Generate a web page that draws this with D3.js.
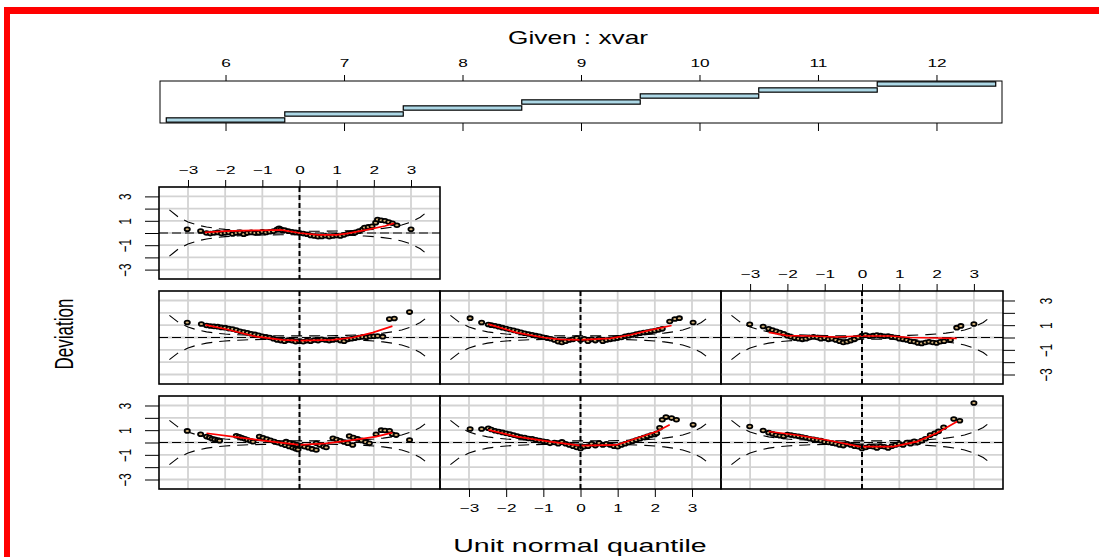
<!DOCTYPE html>
<html><head><meta charset="utf-8">
<script src="https://cdn.jsdelivr.net/npm/d3@7"></script>
<style>body{margin:0;background:#fff;} svg{display:block;} text{font-family:"Liberation Sans",Arial,Helvetica,sans-serif;}</style>
</head><body><svg id="c" width="1099" height="557"></svg>
<script>
// ---------- data ----------
const givenTicks=[6,7,8,9,10,11,12];
const givenLo=[5.5,6.5,7.5,8.5,9.5,10.5,11.5];
const givenHi=[6.5,7.5,8.5,9.5,10.5,11.5,12.5];
const qTicks=[-3,-2,-1,0,1,2,3];
const yTicks=[-3,-2,-1,0,1,2,3];
const yLabels=[-3,-1,1,3];
const nObs=[366,366,366,366,366,366,325];
const p1=[[-3.02,0.94],[-2.66,0.67],[-2.5,0.48],[-2.42,0.4],[-2.35,0.3],[-2.28,0.25],[-2.2,0.2],[-2.15,0.15],
 [-1.7,0.55],[-1.62,0.47],[-1.55,0.39],[-1.47,0.3],[-1.4,0.22],[-1.32,0.14],[-1.25,0.07],
 [-1.08,0.48],[-0.98,0.38],[-0.88,0.28],[-0.78,0.18],[-0.68,0.08],[-0.58,-0.02],[-0.48,-0.12],[-0.38,-0.22],[-0.28,-0.32],[-0.18,-0.42],[-0.1,-0.5],[-0.04,-0.56],
 [-0.36,0.07],[-0.26,-0.02],[-0.16,-0.1],[-0.06,-0.18],[0.04,-0.26],[0.14,-0.35],[0.24,-0.43],[0.34,-0.52],[0.45,-0.61],
 [0.45,-0.07],[0.55,-0.2],[0.65,-0.32],[0.72,-0.4],
 [0.9,0.34],[1.0,0.24],[1.1,0.14],[1.2,0.04],[1.3,-0.06],[1.43,-0.2],
 [1.34,0.53],[1.45,0.41],[1.56,0.29],[1.67,0.17],[1.78,0.05],[1.88,-0.07],
 [2.06,0.67],[2.2,1.0],[2.3,0.97],[2.42,0.95],[2.5,0.67],[2.6,0.6],[2.96,0.2]];
const p2=[[-2.97,1.1],[-2.66,1.1],[-2.48,1.16],[-2.4,1.05],[-2.3,0.95],[-2.2,0.89],[-2.1,0.82],[-2.0,0.75],[-1.9,0.68],[-1.8,0.6],[-1.7,0.52],[-1.6,0.45],[-1.5,0.4],[-1.4,0.33],[-1.3,0.3],[-1.2,0.22],[-1.1,0.15],[-1.0,0.1],[-0.9,0.05],[-0.82,-0.07],[-0.7,0.0],[-0.6,-0.1],[-0.5,0.05],[-0.4,-0.1],[-0.3,-0.2],[-0.2,-0.3],[-0.1,-0.4],[0,-0.48],[0.1,-0.35],[0.2,-0.3],[0.3,-0.1],[0.4,-0.25],[0.5,-0.05],[0.6,-0.2],[0.7,-0.1],[0.8,-0.2],[0.9,-0.3],[1.0,-0.35],[1.1,-0.2],[1.2,-0.1],[1.3,0.0],[1.4,0.1],[1.5,0.2],[1.6,0.3],[1.7,0.4],[1.8,0.5],[1.9,0.6],[2.0,0.65],[2.05,0.75],[2.13,1.2],[2.2,1.84],[2.3,2.06],[2.45,1.98],[2.58,1.84],[3.03,1.43]];
const p3=[[-3.01,1.3],[-2.65,0.97],[-2.5,0.8],[-2.4,0.7],[-2.3,0.6],[-2.2,0.55],[-2.1,0.5],[-2.0,0.65],[-1.9,0.6],[-1.8,0.55],[-1.7,0.5],[-1.6,0.45],[-1.5,0.38],[-1.4,0.3],[-1.3,0.25],[-1.2,0.2],[-1.1,0.15],[-1.0,0.05],[-0.9,0.0],[-0.8,-0.05],[-0.7,-0.1],[-0.6,-0.2],[-0.5,-0.25],[-0.4,-0.1],[-0.3,-0.2],[-0.2,-0.3],[-0.1,-0.35],[0,-0.48],[0.1,-0.4],[0.2,-0.3],[0.3,-0.35],[0.4,-0.45],[0.5,-0.3],[0.6,-0.35],[0.7,-0.45],[0.8,-0.3],[0.9,-0.2],[1.0,-0.1],[1.1,-0.2],[1.2,0.0],[1.3,-0.1],[1.4,0.1],[1.5,0.0],[1.6,0.15],[1.7,0.3],[1.83,0.6],[1.95,0.75],[2.05,0.9],[2.19,1.24],[2.46,1.9],[2.62,1.76],[3.0,3.2]];
const p4=[[-3.02,1.22],[-2.64,1.1],[-2.5,0.97],[-2.4,0.93],[-2.3,0.9],[-2.2,0.88],[-2.1,0.82],[-2.0,0.8],[-1.9,0.72],[-1.8,0.68],[-1.7,0.6],[-1.6,0.5],[-1.5,0.45],[-1.4,0.38],[-1.3,0.3],[-1.2,0.25],[-1.1,0.18],[-1.0,0.1],[-0.9,0.05],[-0.8,0.0],[-0.7,-0.1],[-0.6,-0.2],[-0.5,-0.25],[-0.4,-0.3],[-0.3,-0.2],[-0.2,-0.25],[-0.1,-0.35],[0,-0.3],[0.1,-0.35],[0.2,-0.25],[0.3,-0.3],[0.4,-0.2],[0.5,-0.25],[0.6,-0.15],[0.7,-0.2],[0.8,-0.25],[0.9,-0.2],[1.0,-0.15],[1.1,-0.25],[1.2,-0.3],[1.3,-0.15],[1.4,-0.1],[1.5,-0.05],[1.6,0.0],[1.7,0.05],[1.8,0.02],[1.9,0.08],[2.0,0.1],[2.1,0.12],[2.24,0.07],[2.42,1.49],[2.55,1.54],[2.96,2.06]];
const p5=[[-2.97,1.57],[-2.66,1.22],[-2.48,1.05],[-2.4,1.0],[-2.3,0.95],[-2.2,0.88],[-2.1,0.8],[-2.0,0.72],[-1.9,0.65],[-1.8,0.58],[-1.7,0.5],[-1.6,0.42],[-1.5,0.35],[-1.4,0.28],[-1.3,0.22],[-1.2,0.15],[-1.1,0.1],[-1.0,0.02],[-0.9,-0.05],[-0.8,-0.1],[-0.7,-0.2],[-0.6,-0.35],[-0.5,-0.4],[-0.4,-0.3],[-0.3,-0.2],[-0.2,-0.15],[-0.1,-0.05],[0,-0.2],[0.1,-0.1],[0.2,-0.3],[0.3,-0.15],[0.4,-0.25],[0.5,-0.1],[0.6,-0.3],[0.7,-0.2],[0.8,-0.15],[0.9,-0.1],[1.0,-0.05],[1.1,0.0],[1.2,0.1],[1.3,0.15],[1.4,0.2],[1.5,0.28],[1.6,0.35],[1.7,0.4],[1.8,0.45],[1.9,0.5],[2.0,0.55],[2.1,0.62],[2.2,0.7],[2.4,1.3],[2.54,1.5],[2.66,1.57],[3.03,1.22]];
const p6=[[-3.01,1.08],[-2.65,0.89],[-2.5,0.7],[-2.4,0.6],[-2.3,0.5],[-2.2,0.4],[-2.1,0.3],[-2.0,0.15],[-1.9,0.05],[-1.8,-0.05],[-1.7,-0.1],[-1.6,-0.15],[-1.5,-0.1],[-1.4,0.0],[-1.3,0.05],[-1.2,0.0],[-1.1,-0.1],[-1.0,-0.05],[-0.9,-0.15],[-0.8,-0.1],[-0.7,-0.2],[-0.6,-0.3],[-0.5,-0.4],[-0.4,-0.35],[-0.3,-0.25],[-0.2,-0.15],[-0.1,0.0],[0,0.15],[0.1,0.2],[0.2,0.1],[0.3,0.15],[0.4,0.2],[0.5,0.15],[0.6,0.1],[0.7,0.12],[0.8,0.05],[0.9,0.0],[1.0,-0.1],[1.1,-0.15],[1.2,-0.2],[1.3,-0.3],[1.4,-0.35],[1.5,-0.45],[1.6,-0.48],[1.7,-0.4],[1.8,-0.35],[1.9,-0.4],[2.0,-0.45],[2.1,-0.35],[2.2,-0.3],[2.37,-0.2],[2.54,0.8],[2.65,0.94],[3.0,1.1]];
const p7=[[-3.02,0.30],[-2.66,0.16],[-2.5,0.0],[-2.4,-0.05],[-2.3,0.0],[-2.2,0.05],[-2.1,-0.05],[-2.0,0.0],[-1.9,0.05],[-1.8,-0.08],[-1.7,0.0],[-1.6,0.05],[-1.5,-0.1],[-1.4,0.0],[-1.3,0.05],[-1.2,0.0],[-1.1,0.02],[-1.0,0.1],[-0.9,0.05],[-0.8,0.1],[-0.7,0.15],[-0.6,0.3],[-0.55,0.38],[-0.5,0.3],[-0.45,0.2],[-0.4,0.25],[-0.3,0.15],[-0.2,0.1],[-0.1,0.05],[0,0.0],[0.1,-0.05],[0.2,-0.1],[0.3,-0.2],[0.4,-0.25],[0.5,-0.3],[0.6,-0.28],[0.7,-0.22],[0.8,-0.3],[0.9,-0.25],[1.0,-0.2],[1.1,-0.25],[1.2,-0.15],[1.3,-0.05],[1.4,0.0],[1.5,0.05],[1.6,0.15],[1.7,0.3],[1.75,0.45],[1.85,0.5],[1.95,0.55],[2.05,0.85],[2.1,1.1],[2.2,1.05],[2.3,1.0],[2.4,0.9],[2.5,0.8],[2.62,0.63],[3.0,0.3]];
const r1=[[-2.5,0.75],[-1.8,0.48],[-1.08,0.2],[0,-0.2],[0.72,-0.07],[1.43,0.2],[2.06,0.48],[2.5,0.8]];
const r2=[[-2.48,1.02],[-1.72,0.48],[-0.82,0.07],[0,-0.26],[0.97,-0.2],[1.51,0.34],[2.05,0.89],[2.4,1.43]];
const r3=[[-2.5,0.89],[-1.76,0.61],[-0.95,0.2],[-0.05,-0.34],[0.84,-0.34],[1.47,0.07],[2.0,0.75],[2.55,1.7]];
const r4=[[-2.53,1.02],[-1.97,0.67],[-1.16,0.07],[-0.45,-0.2],[0,-0.26],[0.9,-0.2],[1.43,0],[1.97,0.4],[2.5,0.92]];
const r5=[[-2.48,1.08],[-1.72,0.4],[-1.0,0.0],[-0.55,-0.15],[0,-0.2],[0.8,-0.07],[1.33,0.2],[1.87,0.6],[2.45,0.97]];
const r6=[[-2.5,0.42],[-2.0,0.15],[-1.4,0.12],[-0.68,0.04],[-0.05,0.12],[0.75,0.12],[1.29,0.0],[2.0,-0.04],[2.54,-0.07]];
const r7=[[-2.55,0.05],[-2.0,0.15],[-1.5,0.2],[-1.0,0.22],[-0.5,0.25],[0,0.0],[0.5,-0.16],[1.0,-0.16],[1.3,-0.03],[1.8,0.25],[2.3,0.57],[2.55,0.8]];

// ---------- drawing ----------
const S=1.5;
const svg=d3.select("#c");
function txt(g,x,y,s,size,anchor,rot){
  return g.append("text").attr("transform",`translate(${x},${y}) scale(${S},1)${rot?` rotate(${rot})`:""}`)
    .attr("text-anchor",anchor||"middle").attr("dy","0.35em").attr("font-size",size).attr("fill","#000").text(s);
}
function styleAxis(g,dx,dy,size,rot){
  g.select(".domain").remove();
  g.selectAll(".tick line").attr("stroke","#000").attr("stroke-width",1);
  g.selectAll(".tick text").attr("x",null).attr("y",null).attr("dy","0.35em")
    .attr("text-anchor","middle").attr("font-size",size).attr("fill","#000")
    .attr("font-family","Liberation Sans, Arial, sans-serif")
    .attr("transform",`translate(${dx},${dy}) scale(${S},1)${rot?` rotate(${rot})`:""}`);
}

// red frame
svg.append("line").attr("x1",4).attr("x2",1099).attr("y1",10.5).attr("y2",10.5).attr("stroke","#ff0000").attr("stroke-width",7);
svg.append("line").attr("x1",7).attr("x2",7).attr("y1",7).attr("y2",557).attr("stroke","#ff0000").attr("stroke-width",6);

// given panel
const gx=d3.scaleLinear().domain([5.447,12.553]).range([160,1002]);
const gy=d3.scaleLinear().domain([0.5,7.5]).range([123,81]);
const gp=svg.append("g");
gp.selectAll("rect.bar").data(givenLo).join("rect").attr("class","bar")
  .attr("x",d=>gx(d)).attr("width",(d,i)=>gx(givenHi[i])-gx(d))
  .attr("y",(d,i)=>gy(i+1+0.36)).attr("height",(d,i)=>gy(i+1-0.36)-gy(i+1+0.36))
  .attr("fill","#add8e6").attr("stroke","#000").attr("stroke-width",1.2);
gp.append("rect").attr("x",160).attr("y",81).attr("width",842).attr("height",42).attr("fill","none").attr("stroke","#000").attr("stroke-width",1);
const gTop=gp.append("g").attr("transform","translate(0,81)").call(d3.axisTop(gx).tickValues(givenTicks).tickSize(6).tickFormat(d3.format("d")));
styleAxis(gTop,0,-18,11.5);
const gBot=gp.append("g").attr("transform","translate(0,123)").call(d3.axisBottom(gx).tickValues(givenTicks).tickSize(8).tickFormat(""));
styleAxis(gBot,0,0,11);
txt(svg,578,38,"Given : xvar",17.5);

// worm panels
const cols=[[159,440],[440,721],[721,1003]];
const rows={top:[187,279],mid:[291,384],bot:[396,489]};
const panels=[
  {pts:p1,red:r1,c:0,r:"bot",axes:["left"]},
  {pts:p2,red:r2,c:1,r:"bot",axes:["bottom"]},
  {pts:p3,red:r3,c:2,r:"bot",axes:[]},
  {pts:p4,red:r4,c:0,r:"mid",axes:[]},
  {pts:p5,red:r5,c:1,r:"mid",axes:[]},
  {pts:p6,red:r6,c:2,r:"mid",axes:["top","right"]},
  {pts:p7,red:r7,c:0,r:"top",axes:["top","left"]}
];
function pnorm(z){const t=1/(1+0.3275911*Math.abs(z)/Math.SQRT2);
  const e=1-(((((1.061405429*t-1.453152027)*t)+1.421413741)*t-0.284496736)*t+0.254829592)*t*Math.exp(-z*z/2);
  return z>=0?0.5*(1+e):0.5*(1-e);}
function dnorm(z){return Math.exp(-z*z/2)/Math.sqrt(2*Math.PI);}
const zGrid=d3.range(-3.5,3.5001,0.25);
const fmt=d=>yLabels.includes(d)?d3.format("d")(d):"";

panels.forEach((P,k)=>{
  const [x0,x1]=cols[P.c],[y0,y1]=rows[P.r];
  const x=d3.scaleLinear().domain([-3.78,3.78]).range([x0,x1]);
  const y=d3.scaleLinear().domain([-3.77,3.77]).range([y1,y0]);
  const id="clip"+k;
  svg.append("clipPath").attr("id",id).append("rect").attr("x",x0).attr("y",y0).attr("width",x1-x0).attr("height",y1-y0);
  const g=svg.append("g");
  const pl=g.append("g").attr("clip-path",`url(#${id})`);
  pl.selectAll("line.gv").data(qTicks).join("line").attr("x1",d=>x(d)).attr("x2",d=>x(d)).attr("y1",y0).attr("y2",y1).attr("stroke","#d3d3d3").attr("stroke-width",1.8);
  pl.selectAll("line.gh").data(yTicks).join("line").attr("class","gh").attr("y1",d=>y(d)).attr("y2",d=>y(d)).attr("x1",x0).attr("x2",x1).attr("stroke","#d3d3d3").attr("stroke-width",1.8);
  const n=nObs[k];
  const se=zGrid.map(z=>{const p=pnorm(z);return 1.959964*Math.sqrt(p*(1-p)/n)/dnorm(z);});
  const ln=d3.line().x(d=>x(d[0])).y(d=>y(d[1]));
  pl.append("path").attr("d",ln(zGrid.map((z,i)=>[z,se[i]]))).attr("fill","none").attr("stroke","#000").attr("stroke-width",1.1).attr("stroke-dasharray","11,7");
  pl.append("path").attr("d",ln(zGrid.map((z,i)=>[z,-se[i]]))).attr("fill","none").attr("stroke","#000").attr("stroke-width",1.1).attr("stroke-dasharray","11,7");
  pl.append("line").attr("x1",x0).attr("x2",x1).attr("y1",y(0)).attr("y2",y(0)).attr("stroke","#000").attr("stroke-width",1.1).attr("stroke-dasharray","9,4");
  g.append("line").attr("x1",x(0)).attr("x2",x(0)).attr("y1",y0).attr("y2",y1).attr("stroke","#000").attr("stroke-width",2).attr("stroke-dasharray","5,3");
  pl.selectAll("ellipse").data(P.pts).join("ellipse").attr("cx",d=>x(d[0])).attr("cy",d=>y(d[1]))
    .attr("rx",2.6).attr("ry",1.9).attr("fill","#d4b27a").attr("stroke","#000").attr("stroke-width",1.8);
  pl.append("path").attr("d",ln(P.red)).attr("fill","none").attr("stroke","#ff0000").attr("stroke-width",1.7);
  g.append("rect").attr("x",x0).attr("y",y0).attr("width",x1-x0).attr("height",y1-y0).attr("fill","none").attr("stroke","#000").attr("stroke-width",1.6);
  P.axes.forEach(a=>{
    if(a==="top"){const ax=g.append("g").attr("transform",`translate(0,${y0})`).call(d3.axisTop(x).tickValues(qTicks).tickSize(7).tickFormat(d3.format("d")));styleAxis(ax,0,-17,11.5);}
    if(a==="bottom"){const ax=g.append("g").attr("transform",`translate(0,${y1})`).call(d3.axisBottom(x).tickValues(qTicks).tickSize(8).tickFormat(d3.format("d")));styleAxis(ax,0,19,11.5);}
    if(a==="left"){const ax=g.append("g").attr("transform",`translate(${x0},0)`).call(d3.axisLeft(y).tickValues(yTicks).tickSize(14).tickFormat(fmt));styleAxis(ax,-34,0,11.5,-90);}
    if(a==="right"){const ax=g.append("g").attr("transform",`translate(${x1},0)`).call(d3.axisRight(y).tickValues(yTicks).tickSize(12).tickFormat(fmt));styleAxis(ax,43,0,11.5,-90);}
  });
});

txt(svg,580,545,"Unit normal quantile",19);
txt(svg,64,334,"Deviation",17,"middle",-90);
</script></body></html>
